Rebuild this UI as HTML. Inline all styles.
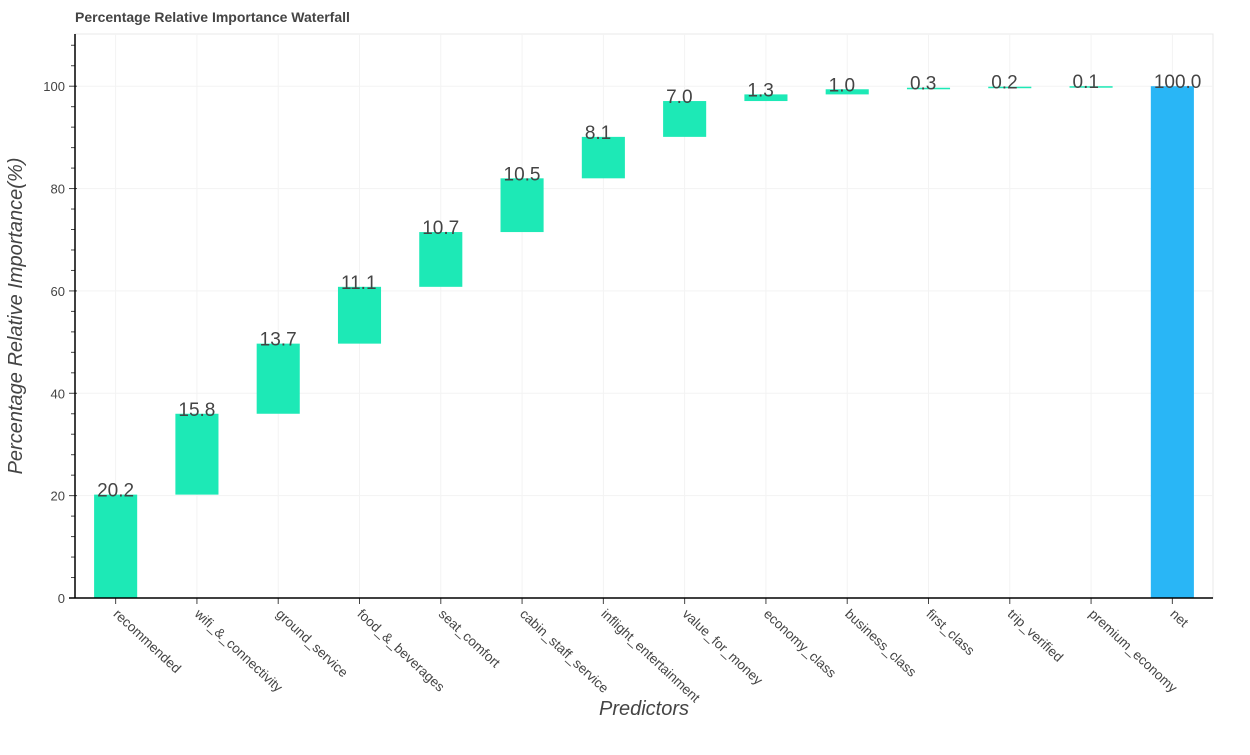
<!DOCTYPE html>
<html><head><meta charset="utf-8"><style>
body{margin:0;background:#fff;}
svg text{font-family:"Liberation Sans",Arial,sans-serif;}
</style></head><body>
<svg id="c" width="1250" height="750" xmlns="http://www.w3.org/2000/svg">
<text x="75" y="22" font-size="14" font-weight="bold" fill="#444">Percentage Relative Importance Waterfall</text>
<rect x="75" y="34" width="1138" height="564" fill="none" stroke="#e8e8e8"/>
<g id="grid"></g><g id="bars"></g><g id="axes"></g>
<text x="644" y="715" font-size="20" font-style="italic" fill="#444" text-anchor="middle">Predictors</text>
<text transform="translate(22,316) rotate(-90)" font-size="20" font-style="italic" fill="#444" text-anchor="middle">Percentage Relative Importance(%)</text>
</svg>
<script>
const categories=["recommended","wifi_&_connectivity","ground_service","food_&_beverages","seat_comfort","cabin_staff_service","inflight_entertainment","value_for_money","economy_class","business_class","first_class","trip_verified","premium_economy","net"];
const values=[20.2,15.8,13.7,11.1,10.7,10.5,8.1,7.0,1.3,1.0,0.3,0.2,0.1,100.0];
const yTicks=[0,20,40,60,80,100];
const NS="http://www.w3.org/2000/svg";
const L=75,R=1213,T=34,B=598,YMAX=110.2;
const bw=(R-L)/categories.length;
const y=v=>B-(v/YMAX)*(B-T);
const xc=i=>L+bw*(i+0.5);
function mk(t,a,p){const e=document.createElementNS(NS,t);for(const k in a)e.setAttribute(k,a[k]);p.appendChild(e);return e;}
const grid=document.getElementById('grid'),bars=document.getElementById('bars'),axes=document.getElementById('axes');
yTicks.forEach(v=>{const g=mk('line',{x1:L,x2:R,y1:y(v),y2:y(v),stroke:'#f3f3f3'},grid);

});
categories.forEach((c,i)=>{const g=mk('line',{x1:xc(i),x2:xc(i),y1:T,y2:B,stroke:'#f3f3f3'},grid);

});
let cum=0;
categories.forEach((c,i)=>{
 const last=i===categories.length-1;
 const lo=last?0:cum, hi=last?values[i]:cum+values[i];
 if(!last)cum+=values[i];
 const w=bw*0.53, x0=xc(i)-w/2;
 const r=mk('rect',{x:x0,y:y(hi),width:w,height:Math.max(y(lo)-y(hi),1.5),fill:last?'#29b6f6':'#1de9b6'},bars);
 
 
 const t=mk('text',{x:x0+3,y:y(hi)+2,'font-size':19,fill:'#444'},bars);
 t.textContent=values[i].toFixed(1);
 
 
 const tk=mk('line',{x1:xc(i),x2:xc(i),y1:B,y2:B+6,stroke:'#444'},axes);
 
 
 const lb=mk('text',{transform:`translate(${xc(i)-3},${B+17}) rotate(43)`,'font-size':13.5,fill:'#444'},axes);
 lb.textContent=c;
 
 
});
for(let v=0;v<=108;v+=4){const maj=v%20===0;
 const t=mk('line',{x1:maj?L-6:L-4,x2:L+(maj?2:0),y1:y(v),y2:y(v),stroke:'#444'},axes);
 
 }
yTicks.forEach(v=>{const t=mk('text',{x:L-10,y:y(v)+5,'font-size':13,fill:'#444','text-anchor':'end'},axes);
 t.textContent=v;
 
 });
const ya=mk('line',{x1:L,x2:L,y1:T,y2:B,stroke:'#000','stroke-width':1.5},axes);


const xa=mk('line',{x1:L-6,x2:R,y1:B,y2:B,stroke:'#000','stroke-width':1.5},axes);


</script>
</body></html>
